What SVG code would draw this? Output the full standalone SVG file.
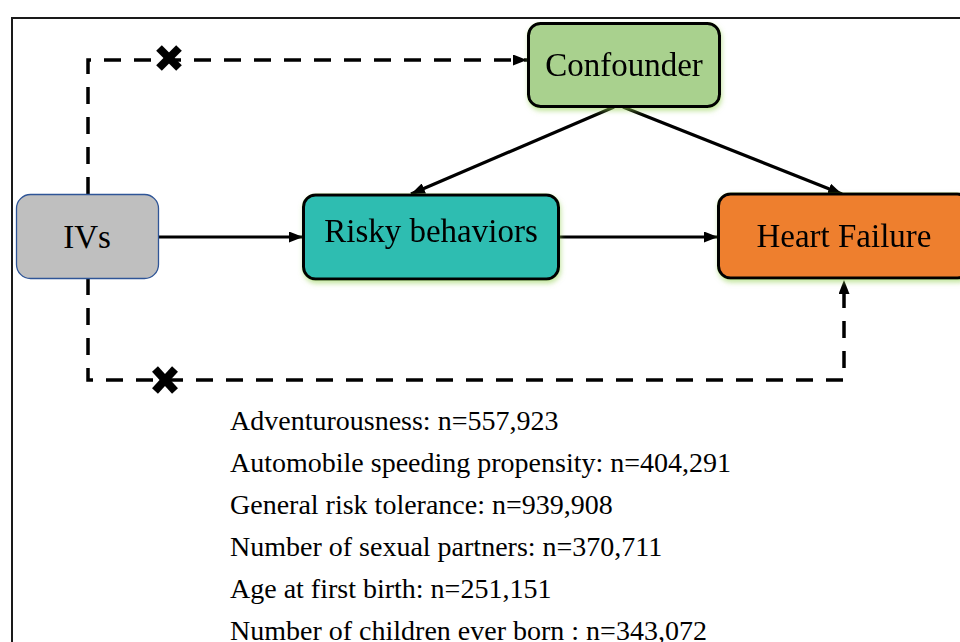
<svg xmlns="http://www.w3.org/2000/svg" width="960" height="642" viewBox="0 0 960 642">
  <defs>
    <style>
      .frame { fill: none; stroke: #1a1a1a; stroke-width: 2; }
      .box { stroke: #000; stroke-width: 3; }
      .lbl { font-family: "Liberation Serif", "Times New Roman", serif; font-size: 33px; fill: #000; text-anchor: middle; }
      .info { font-family: "Liberation Serif", "Times New Roman", serif; font-size: 28px; fill: #000; }
      .solid { fill: none; stroke: #000; stroke-width: 3.2; }
      .dash { fill: none; stroke: #000; stroke-width: 3.5; stroke-dasharray: 17 13; }
      .xmark { stroke: #000; stroke-width: 8; stroke-linecap: butt; }
    </style>
    <marker id="arr" viewBox="0 0 14 11" refX="14" refY="5.5" markerWidth="14" markerHeight="11" markerUnits="userSpaceOnUse" orient="auto">
      <path d="M0,0 L14,5.5 L0,11 Z" fill="#000" stroke="none"/>
    </marker>
    <filter id="glow" x="-10%" y="-10%" width="120%" height="130%">
      <feDropShadow dx="1" dy="3" stdDeviation="2.5" flood-color="#92d050" flood-opacity="0.55"/>
    </filter>
  </defs>

  <rect width="960" height="642" fill="#fff"/>
  <rect class="frame" x="12" y="18" width="980" height="700"/>

  <g id="connectors">
    <path class="dash" d="M88,194 V60 H527" marker-end="url(#arr)"/>
    <path class="dash" d="M88,278 V380 H844 V280" marker-end="url(#arr)"/>
    <line class="solid" x1="158" y1="237" x2="303" y2="237" marker-end="url(#arr)"/>
    <line class="solid" x1="559" y1="237" x2="718" y2="237" marker-end="url(#arr)"/>
    <line class="solid" x1="614" y1="107" x2="411" y2="194" marker-end="url(#arr)"/>
    <line class="solid" x1="623" y1="107" x2="842" y2="194" marker-end="url(#arr)"/>
  </g>

  <g id="block-marks">
    <g transform="translate(169,58)">
      <line class="xmark" x1="-10" y1="-10" x2="10" y2="10"/>
      <line class="xmark" x1="-10" y1="10" x2="10" y2="-10"/>
    </g>
    <g transform="translate(165,380)">
      <line class="xmark" x1="-10" y1="-11" x2="10" y2="11"/>
      <line class="xmark" x1="-10" y1="11" x2="10" y2="-11"/>
    </g>
  </g>

  <g id="node-ivs">
    <rect x="16.5" y="194.5" width="142" height="84" rx="14" fill="#bfbfbf" stroke="#2f5597" stroke-width="1.3"/>
    <text class="lbl" x="87" y="248">IVs</text>
  </g>

  <g id="node-confounder" filter="url(#glow)">
    <rect class="box" x="528.5" y="23.5" width="191" height="83" rx="12" fill="#a9d18e"/>
    <text class="lbl" x="624" y="76">Confounder</text>
  </g>

  <g id="node-risky" filter="url(#glow)">
    <rect class="box" x="303.5" y="195" width="255" height="84" rx="12" fill="#2ebdb1"/>
    <text class="lbl" x="431" y="242">Risky behaviors</text>
  </g>

  <g id="node-hf" filter="url(#glow)">
    <rect class="box" x="718.5" y="194" width="251" height="84" rx="12" fill="#ee7f2f"/>
    <text class="lbl" x="844" y="247">Heart Failure</text>
  </g>

  <g id="info-text">
    <text class="info" x="230" y="430">Adventurousness: n=557,923</text>
    <text class="info" x="230" y="472">Automobile speeding propensity: n=404,291</text>
    <text class="info" x="230" y="514">General risk tolerance: n=939,908</text>
    <text class="info" x="230" y="556">Number of sexual partners: n=370,711</text>
    <text class="info" x="230" y="598">Age at first birth: n=251,151</text>
    <text class="info" x="230" y="640">Number of children ever born : n=343,072</text>
  </g>
</svg>
